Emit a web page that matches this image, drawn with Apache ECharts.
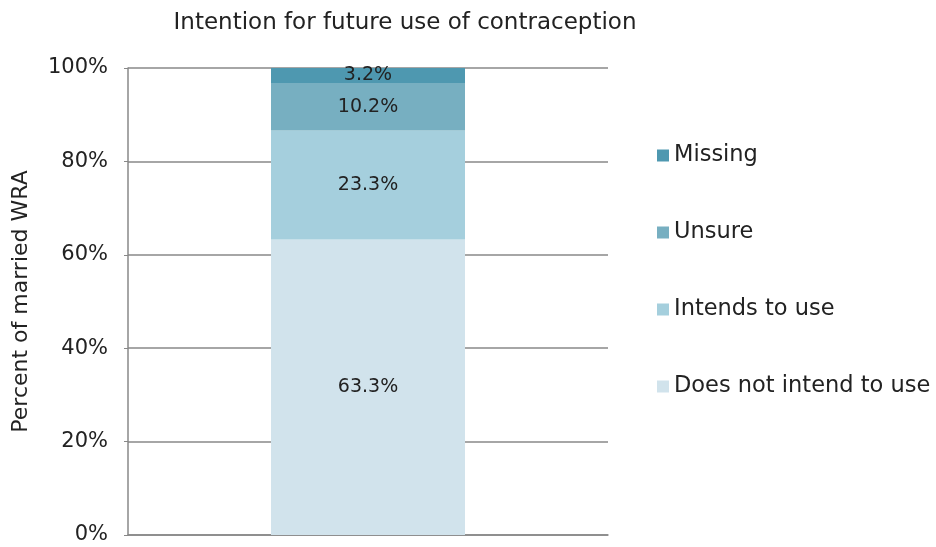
<!DOCTYPE html>
<html>
<head>
<meta charset="utf-8">
<script src="https://cdn.jsdelivr.net/npm/echarts@6/dist/echarts.min.js"></script>
<style>
html,body{margin:0;padding:0;background:#fff;}
#chart{width:936px;height:547px;}
</style>
</head>
<body>
<div id="chart"></div>
<script>
var categories = ['All'];
var seriesNames = ['Does not intend to use', 'Intends to use', 'Unsure', 'Missing'];
var doesNotIntend = [63.3];
var intendsToUse = [23.3];
var unsure = [10.2];
var missing = [3.2];
var yTicks = [0, 20, 40, 60, 80, 100];

var colors = ['#d1e3ec', '#a5cfdd', '#77afc1', '#4e98b0'];
var font = 'DejaVu Sans';

var chart = echarts.init(document.getElementById('chart'));

function makeSeries(name, data, color) {
    return {
        name: name,
        type: 'bar',
        stack: 'total',
        barWidth: 194,
        data: data,
        itemStyle: {color: color},
        label: {
            show: true,
            position: 'inside',
            formatter: function (p) { return p.value.toFixed(1) + '%'; },
            color: '#222',
            fontFamily: font,
            fontSize: 19
        }
    };
}

var option = {
    animation: false,
    title: {
        text: 'Intention for future use of contraception',
        left: 400,
        textAlign: 'center',
        top: 7,
        textStyle: {color: '#222', fontFamily: font, fontWeight: 'normal', fontSize: 23}
    },
    grid: {left: 128, right: 328, top: 68, bottom: 12},
    legend: {
        data: seriesNames.slice().reverse(),
        orient: 'vertical',
        left: 652,
        top: 139,
        itemWidth: 12,
        itemHeight: 12,
        itemGap: 54,
        icon: 'rect',
        textStyle: {color: '#222', fontFamily: font, fontSize: 22.5}
    },
    xAxis: {
        type: 'category',
        data: categories,
        axisTick: {show: false},
        axisLabel: {show: false},
        axisLine: {lineStyle: {color: '#888', width: 1.5}}
    },
    yAxis: {
        type: 'value',
        min: yTicks[0],
        max: yTicks[yTicks.length - 1],
        interval: 20,
        name: 'Percent of married WRA',
        nameLocation: 'middle',
        nameGap: 96,
        nameTextStyle: {color: '#222', fontFamily: font, fontSize: 22},
        axisLine: {show: true, lineStyle: {color: '#888', width: 1.5}},
        axisTick: {show: true, length: 4, lineStyle: {color: '#888'}},
        splitLine: {lineStyle: {color: '#888', width: 1.5}},
        axisLabel: {
            formatter: '{value}%',
            color: '#222',
            fontFamily: font,
            fontSize: 21,
            margin: 20
        }
    },
    series: [
        makeSeries(seriesNames[0], doesNotIntend, colors[0]),
        makeSeries(seriesNames[1], intendsToUse, colors[1]),
        makeSeries(seriesNames[2], unsure, colors[2]),
        makeSeries(seriesNames[3], missing, colors[3])
    ]
};
chart.setOption(option);
</script>
</body>
</html>
